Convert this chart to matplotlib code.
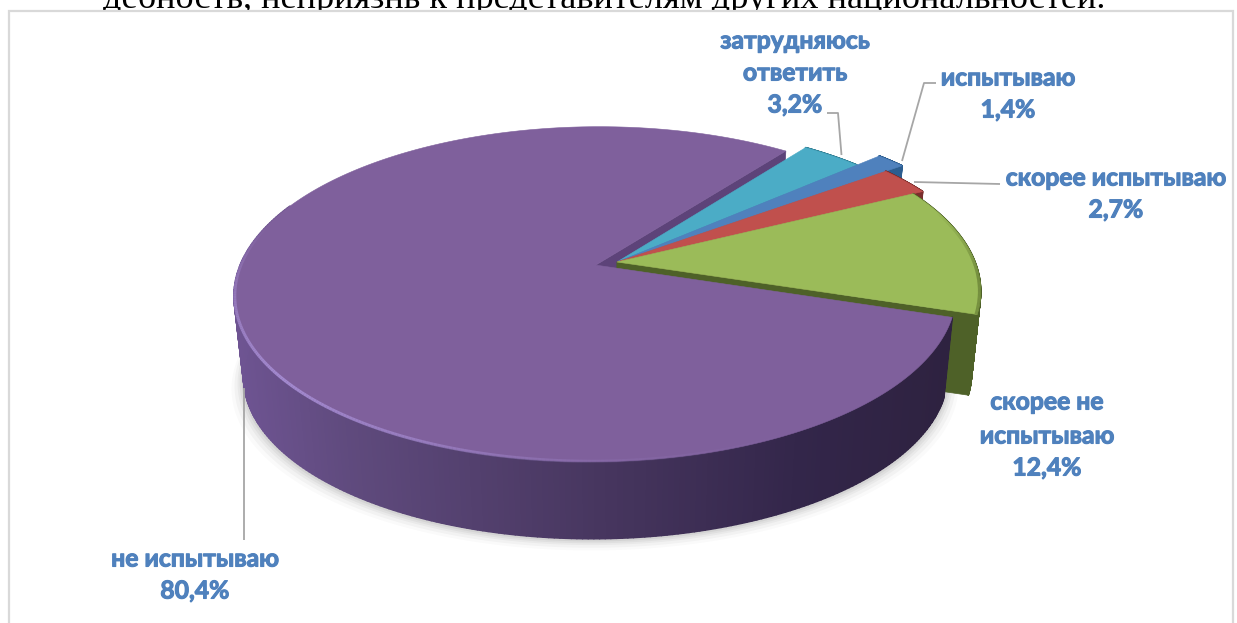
"""Объёмная круговая диаграмма с выдвинутым сектором."""

from __future__ import annotations

import matplotlib

matplotlib.use("Agg")
import matplotlib.patheffects as pe
import matplotlib.pyplot as plt
import numpy as np
from matplotlib.collections import LineCollection, PolyCollection
from matplotlib.colors import to_rgb
from matplotlib.patches import Polygon, Rectangle

# данные
names = ["затрудняюсь ответить", "испытываю", "скорее испытываю", "скорее не испытываю", "не испытываю"]
values = [3.2, 1.4, 2.7, 12.4, 80.4]
value_labels = ["3,2%", "1,4%", "2,7%", "12,4%", "80,4%"]

# оформление секторов
top_colors = ["#4BACC6", "#4F81BD", "#C0504D", "#9BBB59", "#7F609C"]
wall_colors = ["#2F7D92", "#2C5D8F", "#7A2E2C", "#4E6128", "#5D4379"]
radius_scale = [1.0, 1.105, 1.035, 1.0, 0.99]
explode = [0.0, 0.0, 0.0, 0.0, 0.062]

title_text = "дебность, неприязнь к представителям других национальностей."
label_color = "#4F81BD"
label_font = ["Lato", "Noto Sans", "DejaVu Sans"]

# проекция диска на экран (в пикселях)
CX, CY = 617.0, 262.0
R, S, K = 358.0, 163.0, 0.175
DEPTH, BOTTOM_SCALE = 82.0, 0.975
START_ANGLE = 53.1


def project(u, v, bottom=False):
    w = 1 + K * v
    x = R * u / w
    y = -S * v / w
    if bottom:
        return CX + x * BOTTOM_SCALE, CY + y * BOTTOM_SCALE + DEPTH
    return CX + x, CY + y


def rim(a0, a1, radius, shift, bottom=False, n=240):
    t = np.radians(np.linspace(a0, a1, n))
    return project(radius * np.cos(t) + shift[0], radius * np.sin(t) + shift[1], bottom)


def side_color(x):
    xs = [233, 350, 600, 800, 950]
    stops = [to_rgb(c) for c in ["#6E5492", "#5F4A7D", "#47365F", "#33264A", "#2E2240"]]
    return tuple(np.interp(x, xs, [s[i] for s in stops]) for i in range(3))


def draw_wall(ax, a0, a1, radius, shift, color=None, z=2):
    xt, yt = rim(a0, a1, radius, shift)
    xb, yb = rim(a0, a1, radius, shift, bottom=True)
    quads = [
        [(xt[i], yt[i]), (xt[i + 1], yt[i + 1]), (xb[i + 1], yb[i + 1]), (xb[i], yb[i])]
        for i in range(len(xt) - 1)
    ]
    if color is None:
        colors = [side_color(0.5 * (xt[i] + xt[i + 1])) for i in range(len(xt) - 1)]
    else:
        colors = [color] * len(quads)
    ax.add_collection(PolyCollection(quads, facecolors=colors, edgecolors=colors, linewidths=1.2, zorder=z))


def draw_cut(ax, angle, radius, shift, color, z=2):
    t = np.radians(angle)
    ox, oy = project(shift[0], shift[1])
    ex, ey = project(radius * np.cos(t) + shift[0], radius * np.sin(t) + shift[1])
    bx, by = project(radius * np.cos(t) + shift[0], radius * np.sin(t) + shift[1], bottom=True)
    qx, qy = project(shift[0], shift[1], bottom=True)
    ax.add_patch(Polygon([(ox, oy), (ex, ey), (bx, by), (qx, qy)], facecolor=color, edgecolor=color, lw=0.5, zorder=z))


def draw_top(ax, a0, a1, radius, shift, color, z=3):
    xt, yt = rim(a0, a1, radius, shift)
    ox, oy = project(shift[0], shift[1])
    pts = np.column_stack([np.r_[ox, xt], np.r_[oy, yt]])
    ax.add_patch(Polygon(pts, facecolor=color, edgecolor=color, lw=0.4, zorder=z))


def draw_soft_edge(ax, a0, a1, radius, shift, rgb, alphas, z=4):
    """Подсветка кромки верхней грани: полупрозрачная линия по дуге."""
    xt, yt = rim(a0, a1, radius, shift)
    segs = np.stack([np.column_stack([xt[:-1], yt[:-1]]), np.column_stack([xt[1:], yt[1:]])], axis=1)
    colors = [(*rgb, a) for a in np.interp(np.linspace(0, 1, len(segs)), np.linspace(0, 1, len(alphas)), alphas)]
    ax.add_collection(LineCollection(segs, colors=colors, linewidths=2.2, zorder=z))


def main() -> None:
    fig = plt.figure(figsize=(12.37, 6.23), dpi=100)
    ax = fig.add_axes([0, 0, 1, 1])
    ax.set_xlim(0, 1237)
    ax.set_ylim(623, 0)
    ax.axis("off")

    ax.text(103, 7.5, title_text, family=["Liberation Serif"], fontsize=26.1, color="black", va="baseline", zorder=0)
    ax.add_patch(Rectangle((9, 11), 1224, 640, facecolor="white", edgecolor="#D9D9D9", lw=1.6, zorder=1))

    fractions = np.array(values) / np.sum(values)
    spans = fractions * 360.0
    ends = START_ANGLE - np.cumsum(spans)
    starts = ends + spans

    mids = np.radians(0.5 * (starts + ends))
    shifts = [(e * np.cos(m), e * np.sin(m)) for e, m in zip(explode, mids)]

    # мягкая тень под диаграммой
    i_big = len(values) - 1
    a0, a1 = starts[i_big], ends[i_big]
    for grow, alpha in zip([12, 9, 6, 4, 2], [0.02, 0.03, 0.035, 0.04, 0.05]):
        bx, by = rim(-10, -200, radius_scale[i_big], shifts[i_big], bottom=True)
        cx0 = CX + (bx - CX) * (1 + grow / 370.0)
        cy0 = by + grow * 0.9 + 1
        tx, ty = rim(-200, -10, radius_scale[i_big], shifts[i_big])
        pts = np.column_stack([np.r_[cx0, tx], np.r_[cy0, ty]])
        ax.add_patch(Polygon(pts, facecolor="black", edgecolor="none", alpha=alpha, zorder=1.5))

    # срез большого сектора виден в зазоре
    draw_cut(ax, a1, radius_scale[i_big], shifts[i_big], wall_colors[i_big], z=2)

    # малые секторы от дальнего к ближнему
    for i in range(len(values) - 1):
        draw_wall(ax, starts[i], ends[i], radius_scale[i], shifts[i], color=wall_colors[i], z=2 + i * 0.1)
        draw_cut(ax, ends[i], radius_scale[i], shifts[i], wall_colors[i], z=2 + i * 0.1)
        draw_top(ax, starts[i], ends[i], radius_scale[i], shifts[i], top_colors[i], z=2.05 + i * 0.1)

    # тёмная кромка у зелёного сектора
    draw_soft_edge(ax, starts[3] - 8, ends[3], radius_scale[3] - 0.003, shifts[3], to_rgb("#5F7530"), [0.0, 0.3, 0.8, 0.7], z=2.9)

    # большой сектор поверх остальных
    draw_wall(ax, a0, a0 - 185, radius_scale[i_big], shifts[i_big], z=3)
    draw_top(ax, a0, a1, radius_scale[i_big], shifts[i_big], top_colors[i_big], z=3.5)
    draw_soft_edge(ax, -195, -60, radius_scale[i_big] - 0.002, shifts[i_big], to_rgb("#A88FD6"), [0.0, 0.55, 0.9, 0.6, 0.15, 0.0], z=4)

    # выноски
    leaders = [
        ([827, 838, 841.5], [113, 113, 155]),
        ([936, 924, 902], [83, 83, 161]),
        ([1000, 914], [184, 182]),
        ([244, 244], [388, 540]),
    ]
    for xs, ys in leaders:
        ax.plot(xs, ys, color="#A6A6A6", lw=1.3, zorder=5, solid_capstyle="butt")

    # подписи
    labels = [
        (795, [41, 73, 105], ["затрудняюсь", "ответить", value_labels[0]]),
        (1008, [78, 110], [names[1], value_labels[1]]),
        (1116, [178, 210], [names[2], value_labels[2]]),
        (1047, [402, 436, 468], ["скорее не", "испытываю", value_labels[3]]),
        (195, [559, 591], [names[4], value_labels[4]]),
    ]
    for x, ys, lines in labels:
        for y, line in zip(ys, lines):
            ax.text(x, y, line, family=label_font, fontweight="bold", fontsize=17.8, color=label_color,
                    ha="center", va="center", zorder=6,
                    path_effects=[pe.withStroke(linewidth=0.8, foreground=label_color)])

    fig.savefig("out.png", dpi=100)


if __name__ == "__main__":
    main()
